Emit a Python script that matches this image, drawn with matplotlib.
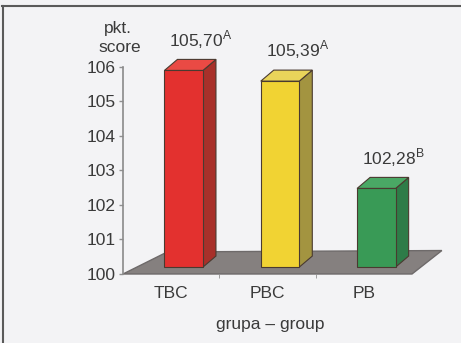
import matplotlib
matplotlib.use('Agg')
import matplotlib.pyplot as plt
from matplotlib.patches import Polygon
from matplotlib.lines import Line2D

groups = ['TBC', 'PBC', 'PB']
scores = [105.70, 105.39, 102.28]
letters = ['A', 'A', 'B']
front_colors = ['#e3312f', '#f1d333', '#399a56']
top_colors = ['#ea4a44', '#e9d45a', '#4aa865']
side_colors = ['#a8302a', '#a39440', '#2e7c48']

plt.rcParams['font.family'] = ['Liberation Sans', 'DejaVu Sans']
plt.rcParams['mathtext.fontset'] = 'custom'
plt.rcParams['mathtext.rm'] = 'Liberation Sans'

fig = plt.figure(figsize=(4.61, 3.43), dpi=100, facecolor='#f3f3f5')
ax = fig.add_axes([123/461, 69/343, 289/461, 207/343])
ax.set_xlim(-0.5, 2.5)
ax.set_ylim(100, 106)
ax.patch.set_visible(False)

# 3d look: bars sit a bit back on the floor
lift = 0.2
shift = 0.13
w = 0.40
ddx = 0.135
ddy = 0.32

floor = Polygon([(-0.5, 100), (2.5, 100), (2.81, 100.68), (-0.04, 100.64)],
                closed=True, fc='#85807f', ec='#6e6a6a', lw=1, clip_on=False, zorder=1)
ax.add_patch(floor)

for i, v in enumerate(scores):
    x0 = i + shift - w/2
    x1 = x0 + w
    y0 = 100 + lift
    y1 = v + lift
    front = [(x0, y0), (x1, y0), (x1, y1), (x0, y1)]
    top = [(x0, y1), (x1, y1), (x1 + ddx, y1 + ddy), (x0 + ddx, y1 + ddy)]
    side = [(x1, y0), (x1 + ddx, y0 + ddy), (x1 + ddx, y1 + ddy), (x1, y1)]
    ax.add_patch(Polygon(side, closed=True, fc=side_colors[i], ec='#4a3a30', lw=0.8, clip_on=False, zorder=2))
    ax.add_patch(Polygon(top, closed=True, fc=top_colors[i], ec='#4a3a30', lw=0.8, clip_on=False, zorder=2))
    ax.add_patch(Polygon(front, closed=True, fc=front_colors[i], ec='#4a3a30', lw=0.8, clip_on=False, zorder=3))
    lab = ('%.2f' % v).replace('.', ',') + '$^{\\mathrm{%s}}$' % letters[i]
    ax.text(i + 0.31, v + 1.1, lab, ha='center', va='center', fontsize=12.5,
            color='#3a3a3a', clip_on=False)

ax.set_yticks(range(100, 107))
ax.tick_params(axis='y', length=3, width=1, color='#909090', labelsize=12.5,
               labelcolor='#3a3a3a', pad=2)
ax.set_xticks(range(len(groups)), groups)
ax.tick_params(axis='x', length=0, pad=9, labelsize=12.5, labelcolor='#3a3a3a')
ax.set_xticks([0.5, 1.5], minor=True)
ax.tick_params(axis='x', which='minor', length=3, color='#909090')

for s in ['top', 'right', 'bottom']:
    ax.spines[s].set_visible(False)
ax.spines['left'].set_color('#8a8a8a')
ax.spines['left'].set_linewidth(1.2)

fig.text(118/461, 1 - 28/343, 'pkt.', ha='center', va='center', fontsize=12.5, color='#3a3a3a')
fig.text(120/461, 1 - 48/343, 'score', ha='center', va='center', fontsize=12.5, color='#3a3a3a')
fig.text(270/461, 1 - 325/343, 'grupa \u2013 group', ha='center', va='center', fontsize=12.5, color='#3a3a3a')

fig.add_artist(Line2D([2/461, 1], [1 - 6/343, 1 - 6/343], transform=fig.transFigure, color='#5a5a5a', lw=1.5))
fig.add_artist(Line2D([2.5/461, 2.5/461], [0, 1 - 6/343], transform=fig.transFigure, color='#5a5a5a', lw=1.5))

fig.savefig('out.png', dpi=100, facecolor=fig.get_facecolor())
